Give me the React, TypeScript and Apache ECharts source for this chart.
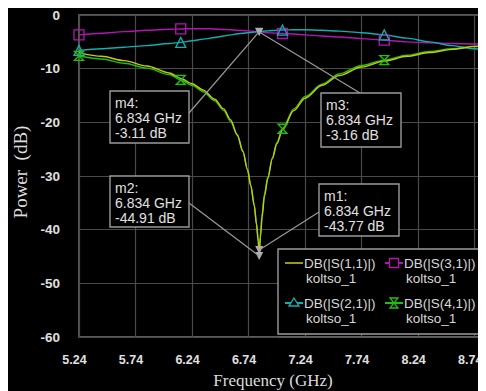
import React, { useEffect, useRef } from "react";
import * as echarts from "echarts";

const F0 = 5.24;
const freqs = [5.24, 5.44, 5.64, 5.84, 6.04, 6.14, 6.24, 6.34, 6.44, 6.52, 6.58, 6.64, 6.69, 6.73, 6.76, 6.79, 6.81, 6.825, 6.834, 6.845, 6.86, 6.88, 6.91, 6.95, 6.99, 7.04, 7.14, 7.24, 7.39, 7.54, 7.74, 7.94, 8.14, 8.34, 8.54, 8.74, 8.84];
const s11 = [-7.0, -7.7, -8.5, -9.5, -10.8, -11.8, -12.8, -14.0, -15.7, -17.5, -19.5, -22.3, -25.4, -28.8, -31.8, -35.5, -39.0, -42.2, -44.91, -41.4, -37.6, -33.8, -30.5, -26.8, -24.0, -21.4, -17.8, -15.5, -13.1, -11.3, -9.7, -8.6, -7.7, -7.0, -6.4, -5.9, -5.5];
const s41 = [-7.6, -8.2, -9.0, -9.9, -11.1, -12.1, -13.1, -14.3, -16.0, -17.8, -19.8, -22.4, -25.5, -28.8, -31.8, -35.4, -38.8, -41.7, -43.77, -40.8, -37.0, -33.4, -30.2, -26.6, -23.8, -21.2, -17.5, -15.2, -12.9, -11.0, -9.4, -8.4, -7.5, -6.8, -6.3, -5.8, -5.5];
const s21 = [-6.6, -6.3, -6.0, -5.7, -5.3, -5.1, -4.8, -4.5, -4.2, -3.9, -3.7, -3.5, -3.4, -3.3, -3.25, -3.2, -3.15, -3.12, -3.11, -3.08, -3.05, -3.0, -2.95, -2.9, -2.85, -2.8, -2.75, -2.75, -2.85, -3.0, -3.3, -3.7, -4.3, -5.0, -5.7, -6.3, -6.6];
const s31 = [-3.7, -3.4, -3.1, -2.85, -2.65, -2.6, -2.55, -2.55, -2.6, -2.7, -2.75, -2.85, -2.9, -2.95, -3.0, -3.05, -3.1, -3.13, -3.16, -3.18, -3.2, -3.25, -3.3, -3.35, -3.4, -3.45, -3.55, -3.7, -3.9, -4.1, -4.4, -4.7, -5.0, -5.2, -5.3, -5.4, -5.5];
const markerIdx = [0, 5, 25, 31];

const seriesNames = ["DB(|S(1,1)|)", "DB(|S(2,1)|)", "DB(|S(3,1)|)", "DB(|S(4,1)|)"];
const subName = "koltso_1";

const markerFreq = 6.834;
const markers = [
  { name: "m1", value: -43.77 },
  { name: "m2", value: -44.91 },
  { name: "m3", value: -3.16 },
  { name: "m4", value: -3.11 },
];

const C11 = "#c8c814";
const C11L = "#9a9a10";
const C21 = "#10b0b0";
const C31 = "#b414b4";
const C41 = "#20c010";
const HOUR = "path://M0,0L10,0L0,10L10,10Z";

function makeData(vals: number[], sym: string | null, size: number) {
  return freqs.map((f, i) => {
    const v = [+(f - F0).toFixed(4), vals[i]];
    if (sym && markerIdx.includes(i)) return { value: v, symbol: sym, symbolSize: size };
    return v;
  });
}

export default function App() {
  const ref = useRef<HTMLDivElement>(null);
  useEffect(() => {
    const chart = echarts.init(ref.current!, null, { renderer: "svg" });
    const mp = (val: number) => ({
      symbol: "triangle",
      symbolRotate: 180,
      symbolSize: 8,
      itemStyle: { color: "#b0b0b0" },
      label: { show: false },
      data: [{ coord: [+(markerFreq - F0).toFixed(4), val] }],
    });
    const mkSeries = (name: string, vals: number[], color: string, sym: string | null, size: number, mval: number) => ({
      type: "line",
      name,
      data: makeData(vals, sym, size),
      symbol: "circle",
      symbolSize: 0,
      showAllSymbol: true,
      smooth: 0.3,
      smoothMonotone: "x",
      lineStyle: { color, width: 1.4 },
      itemStyle: { color: "rgba(0,0,0,0)", borderColor: color, borderWidth: 1.3 },
      markPoint: mp(mval),
      z: 3,
    });
    const option: any = {
      animation: false,
      backgroundColor: "#000",
      grid: { left: 71, top: 6, right: -4, bottom: 54, show: true, borderColor: "#777", borderWidth: 1.5 },
      xAxis: {
        type: "value",
        min: 0,
        max: 3.6,
        interval: 0.5,
        axisLine: { show: false },
        axisTick: { show: false },
        splitLine: { lineStyle: { color: "#4a4a4a", width: 1.2 } },
        axisLabel: {
          margin: 16,
          showMaxLabel: false,
          formatter: (v: number) => "{a|" + (v + F0).toFixed(2) + "}",
          rich: {
            a: {
              color: "#e0e0e0",
              fontSize: 12.5,
              fontWeight: "bold",
              fontFamily: "Liberation Sans",
              padding: [0, 9, 0, 0],
            },
          },
        },
      },
      yAxis: {
        type: "value",
        min: -60,
        max: 0,
        interval: 10,
        axisLine: { show: false },
        axisTick: { show: false },
        splitLine: { lineStyle: { color: "#4a4a4a", width: 1.2 } },
        axisLabel: {
          color: "#e0e0e0",
          fontSize: 13.5,
          fontWeight: "bold",
          fontFamily: "Liberation Sans",
          margin: 19,
        },
      },
      series: [
        mkSeries(seriesNames[2], s31, C31, "rect", 10, -3.16),
        mkSeries(seriesNames[1], s21, C21, "triangle", 10, -3.11),
        mkSeries(seriesNames[3], s41, C41, HOUR, 9, -43.77),
        mkSeries(seriesNames[0], s11, C11, null, 0, -44.91),
      ],
    };
    chart.setOption(option);

    const px = (v: number) => chart.convertToPixel({ gridIndex: 0 }, [+(markerFreq - F0).toFixed(4), v]) as number[];
    const boxes = [
      { m: markers[3], x: 102, y: 83, w: 79, h: 52, lx: 181, ly: 105 },
      { m: markers[2], x: 313, y: 85, w: 80, h: 54, lx: 352, ly: 85 },
      { m: markers[1], x: 102, y: 168, w: 79, h: 51, lx: 181, ly: 195 },
      { m: markers[0], x: 311, y: 176, w: 80, h: 52, lx: 311, ly: 204 },
    ];
    const g: any[] = [];
    boxes.forEach((b) => {
      const p = px(b.m.value);
      g.push({ type: "line", z: 10, shape: { x1: b.lx, y1: b.ly, x2: p[0], y2: p[1] }, style: { stroke: "#9a9a9a", lineWidth: 1.2 } });
      g.push({ type: "rect", z: 11, shape: { x: b.x, y: b.y, width: b.w, height: b.h }, style: { fill: "#000", stroke: "#9a9a9a", lineWidth: 1.4 } });
      const lines = [b.m.name + ":", markerFreq.toFixed(3) + " GHz", b.m.value.toFixed(2) + " dB"];
      lines.forEach((t, k) => {
        g.push({ type: "text", z: 12, style: { text: t, x: b.x + 5, y: b.y + 12 + k * 15, fill: "#e0e0e0", fontSize: 14, fontFamily: "Liberation Sans", verticalAlign: "middle", align: "left" } });
      });
    });
    // legend
    g.push({ type: "rect", z: 20, shape: { x: 270, y: 241, width: 204, height: 85 }, style: { fill: "#000", stroke: "#9a9a9a", lineWidth: 1.4 } });
    g.push({ type: "line", z: 20, shape: { x1: 271, y1: 329, x2: 475, y2: 329 }, style: { stroke: "#666", lineWidth: 1 } });
    const leg = [
      { name: seriesNames[0], x: 277, y: 255, color: C11L, icon: "none" },
      { name: seriesNames[2], x: 377, y: 255, color: C31, icon: "rect" },
      { name: seriesNames[1], x: 277, y: 295, color: C21, icon: "tri" },
      { name: seriesNames[3], x: 377, y: 295, color: C41, icon: "hour" },
    ];
    leg.forEach((l) => {
      g.push({ type: "line", z: 21, shape: { x1: l.x, y1: l.y, x2: l.x + 18, y2: l.y }, style: { stroke: l.color, lineWidth: 2 } });
      const cx = l.x + 9;
      if (l.icon === "rect") g.push({ type: "rect", z: 22, shape: { x: cx - 4.5, y: l.y - 4.5, width: 9, height: 9 }, style: { fill: "#000", stroke: l.color, lineWidth: 1.3 } });
      if (l.icon === "tri") g.push({ type: "polygon", z: 22, shape: { points: [[cx, l.y - 5], [cx + 5, l.y + 3], [cx - 5, l.y + 3]] }, style: { fill: "#000", stroke: l.color, lineWidth: 1.3 } });
      if (l.icon === "hour") g.push({ type: "polygon", z: 22, shape: { points: [[cx - 4, l.y - 5], [cx + 4, l.y - 5], [cx - 4, l.y + 5], [cx + 4, l.y + 5]] }, style: { fill: "#000", stroke: l.color, lineWidth: 1.3 } });
      g.push({ type: "text", z: 22, style: { text: l.name, x: l.x + 19, y: l.y, fill: "#d8d8d8", fontSize: 13.5, fontFamily: "Liberation Sans", verticalAlign: "middle", align: "left" } });
      g.push({ type: "text", z: 22, style: { text: subName, x: l.x + 21, y: l.y + 15, fill: "#d8d8d8", fontSize: 13.5, fontFamily: "Liberation Sans", verticalAlign: "middle", align: "left" } });
    });
    // axis titles
    g.push({ type: "text", z: 5, x: 12, y: 164, rotation: Math.PI / 2, style: { text: "Power  (dB)", fill: "#dcdcdc", fontSize: 19, fontFamily: "Liberation Serif", align: "center", verticalAlign: "middle" } });
    g.push({ type: "text", z: 5, x: 265, y: 372, style: { text: "Frequency (GHz)", fill: "#dcdcdc", fontSize: 17, fontFamily: "Liberation Serif", align: "center", verticalAlign: "middle" } });
    chart.setOption({ graphic: g });
    return () => chart.dispose();
  }, []);
  return <div ref={ref} style={{ width: 478, height: 383, background: "#000" }} />;
}
